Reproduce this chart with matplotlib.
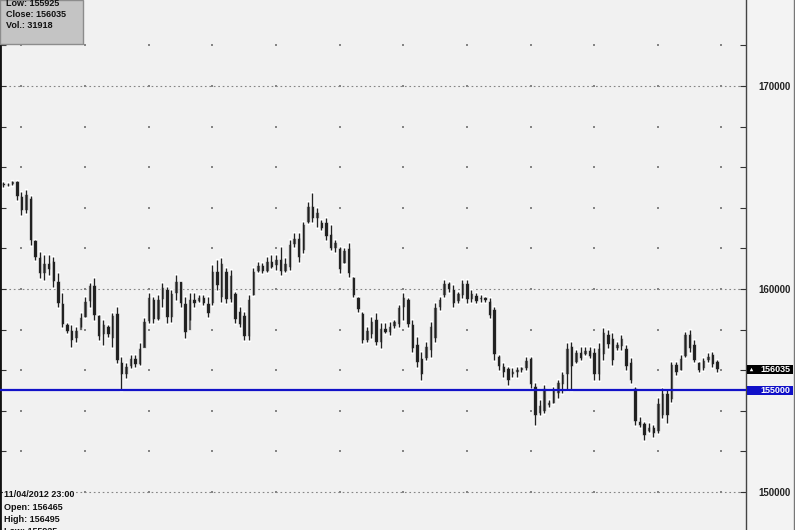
import matplotlib
matplotlib.use("Agg")
import matplotlib.pyplot as plt
from matplotlib.patches import Rectangle
from matplotlib.transforms import blended_transform_factory

# hourly candles (left to right)
opens = [165200, 165100, 165150, 165300, 164600, 163900, 164500, 162400, 161600, 160800,
         161300, 161400, 160400, 159300, 158300, 158000, 157600, 158000, 158600, 159400,
         160200, 158700, 157800, 158200, 157600, 158800, 156400, 155800, 156200, 156600,
         156300, 157100, 158400, 159500, 158500, 159500, 160000, 158600, 159800, 160400,
         159300, 158000, 159500, 159400,
         159600, 159300, 159300, 160900, 159600, 160900, 159500, 159800, 158900, 158700,
         157700, 159700, 160900, 161200, 160900, 161400, 161200, 161500, 160900, 161100,
         162200, 162500, 161900, 163300, 164100, 163500, 163300, 163300, 162700, 162000,
         162000, 161300, 162000, 160600, 159600, 158800, 157500, 157800, 158500, 157400,
         158100, 157900, 158200, 158300,
         159100, 159500, 158300, 157300, 156600, 156600, 157000, 157600, 159100, 159700,
         160300, 160000, 159400, 159700, 160300, 159500, 159700, 159500, 159600, 159400,
         159000, 156700, 156200, 156100, 155800, 155900, 156000, 156100, 156600, 155200,
         153900, 154000, 154300, 154400, 154900,
         155300, 155800, 157200, 156400, 156900, 156800, 157000, 156900, 155800, 156800,
         157800, 157600, 157100, 157200, 157100, 156400, 155100, 153500, 153400, 153000,
         153200, 153000, 153800, 154900, 154600, 156300, 156000, 156700, 157800, 157300,
         156400, 156100, 156500, 156800, 156465]
highs = [165290, 165210, 165340, 165340, 164800, 164900, 164580, 162410, 161840, 161670,
         161670, 161590, 160770, 159790, 158310, 158230, 158140, 158800, 159620, 160280,
         160520, 158720, 158470, 158230, 158800, 159130, 156670, 156340, 156750, 156750,
         157320, 158550, 159790, 159620, 159700, 160280, 160110, 159950, 160690, 160360,
         159620, 159790, 159790, 159700,
         159700, 159620, 161180, 161430, 161510, 161020, 160940, 159870, 159130, 158880,
         159700, 161020, 161350, 161260, 161590, 161670, 161670, 162090, 161510, 162410,
         162740, 162740, 163320, 164300, 164710, 163970, 163400, 163480, 163150, 162410,
         162090, 162000, 162250, 160610, 159620, 158880, 158140, 158640, 158800, 158310,
         158310, 158390, 158470, 159210,
         159790, 159540, 158470, 157650, 156910, 157410, 158390, 159290, 159620, 160440,
         160360, 160200, 159870, 160440, 160440, 159950, 159790, 159700, 159620, 159540,
         159130, 156750, 156340, 156180, 156090, 156180, 156180, 156670, 156670, 155350,
         154530, 155270, 154530, 155190, 155520,
         155930, 157320, 157410, 157000, 157160, 157160, 157160, 157080, 157320, 158060,
         157980, 157820, 157410, 157730, 157240, 156590, 155190, 153710, 153470, 153380,
         153300, 154620, 155110, 155030, 156420, 156420, 156750, 157900, 157980, 157490,
         156420, 156590, 156830, 156910, 156495]
lows = [165040, 165070, 165120, 164380, 163650, 163730, 162170, 161430, 160530, 160440,
        160690, 160110, 159130, 158140, 157820, 157160, 157400, 158140, 158640, 159130,
        158470, 157490, 157240, 157650, 157160, 156340, 155020, 155600, 156090, 156170,
        156260, 157160, 158310, 158310, 158470, 159130, 158310, 158390, 159460, 159130,
        157570, 158470, 159130, 159380,
        159210, 158640, 159210, 159950, 159380, 159290, 159380, 158310, 158140, 157490,
        157490, 159700, 160850, 160770, 160850, 161020, 160940, 160690, 160850, 160940,
        162090, 161350, 161760, 163230, 163320, 163070, 162910, 162410, 161920, 161840,
        160770, 161260, 160610, 159620, 158880, 157320, 157410, 157570, 157240, 157080,
        157820, 157730, 158060, 158140,
        158470, 158150, 156910, 156180, 155520, 156500, 156670, 157410, 158970, 159620,
        159870, 159130, 159290, 159540, 159290, 159380, 159290, 159380, 159380, 158560,
        156500, 156010, 155680, 155270, 155680, 155680, 155930, 156010, 155110, 153300,
        153790, 153880, 154210, 154370, 154620,
        154860, 155030, 155030, 156340, 156500, 156750, 156590, 155520, 155520, 156500,
        157080, 156260, 157000, 157000, 156010, 155350, 153300, 153220, 152560, 152970,
        152730, 152890, 153630, 153380, 154450, 155760, 156010, 156670, 156910, 156420,
        155930, 156010, 156420, 156170, 155925]
closes = [165100, 165150, 165300, 164600, 163900, 164700, 162400, 161600, 160800, 161300,
          161000, 160400, 159300, 158300, 157950, 157500, 158000, 158600, 159400, 160200,
          158700, 157700, 158300, 157800, 158700, 156500, 155800, 156200, 156600, 156300,
          157100, 158400, 159600, 158500, 159500, 160100, 158600, 159800, 160400, 159300,
          157900, 159500, 159300, 159600,
          159300, 158800, 160900, 160200, 161300, 159500, 160700, 158500, 158300, 157700,
          159500, 160900, 161200, 160900, 161400, 161100, 161500, 160900, 161300, 162200,
          162500, 161600, 163200, 164100, 163500, 163800, 163000, 162600, 162000, 162300,
          161000, 161900, 160800, 159700, 159000, 157500, 158000, 158400, 157400, 158100,
          157900, 158200, 158400, 159100,
          159600, 158300, 157100, 156400, 155800, 157200, 158200, 159100, 159500, 160300,
          160000, 159300, 159800, 160300, 159500, 159800, 159400, 159600, 159450, 158700,
          156800, 156200, 155900, 155500, 155950, 156050, 156150, 156500, 155300, 153800,
          154300, 155100, 154450, 155000, 155400,
          155800, 157100, 156200, 156900, 156600, 157000, 156700, 155800, 157100, 157900,
          157300, 156500, 157300, 157600, 156200, 155500, 153500, 153300, 152800, 153200,
          152900, 154400, 154900, 153800, 156300, 155900, 156600, 157800, 157100, 156500,
          156000, 156500, 156700, 156300, 156035]

last_close = 156035
line_level = 155000
tick_levels = [150000, 152000, 154000, 156000, 158000, 160000,
               162000, 164000, 166000, 168000, 170000, 172000]
label_levels = [150000, 160000, 170000]
grid_cols = [4, 18, 32, 46, 60, 74, 88, 102, 116, 130, 144, 158]
info_top = ["Low: 155925", "Close: 156035", "Vol.: 31918"]
info_bottom = ["11/04/2012 23:00", "Open: 156465", "High: 156495", "Low: 155925"]

W, H = 795, 530
BG = "#f1f1f1"
FONT = "Liberation Sans"

fig = plt.figure(figsize=(W / 100, H / 100), dpi=100, facecolor="#f3f3f3")
ax = fig.add_axes([0, 0, 746 / W, 1])
ax.set_facecolor(BG)
ax.set_xlim(-0.73, 163.4)
ax.set_ylim(148128, 174236)

# grid: dotted lines at round levels, dots elsewhere
for lv in label_levels:
    ax.axhline(lv, color="#858585", lw=0.8, ls=(0, (1.5, 2.5)), zorder=1)
gx = [c for c in grid_cols for _ in tick_levels]
gy = [lv for _ in grid_cols for lv in tick_levels]
ax.scatter(gx, gy, s=2.5, marker="s", color="#858585", linewidths=0, zorder=1)

# candles
for i in range(len(opens)):
    o, h, l, c = opens[i], highs[i], lows[i], closes[i]
    col = "#6a6a6a" if c >= o else "#242424"
    ax.plot([i, i], [l, h], color="white", lw=2.4, zorder=2, solid_capstyle="projecting")
    ax.plot([i, i], [l, h], color="#202020", lw=1.0, zorder=4, solid_capstyle="butt")
    ax.add_patch(Rectangle((i - 0.38, min(o, c)), 0.76, max(abs(c - o), 60),
                           facecolor=col, edgecolor="white", lw=0.45, zorder=3))

ax.axhline(line_level, color="#1212c8", lw=1.6, zorder=5)

# price scale on the right
ax.set_xticks([])
ax.set_yticks(tick_levels)
ax.set_yticklabels([str(v) if v in label_levels else "" for v in tick_levels])
ax.tick_params(axis="y", which="both", direction="in", length=4, width=0.8,
               color="#333333", left=True, right=True,
               labelleft=False, labelright=True, pad=9, labelsize=7)
for lab in ax.get_yticklabels():
    lab.set_fontfamily(FONT)
    lab.set_fontweight("bold")
    lab.set_color("#222222")
for s in ["top", "bottom"]:
    ax.spines[s].set_visible(False)
ax.spines["left"].set_color("#111111")
ax.spines["left"].set_linewidth(2)
ax.spines["right"].set_color("#444444")
ax.spines["right"].set_linewidth(1)

# price tags
tr = blended_transform_factory(ax.transAxes, ax.transData)
px = (174236 - 148128) / H
for val, bg in [(last_close, "black"), (line_level, "#1010c8")]:
    ax.add_patch(Rectangle((1.001, val - 4.5 * px), 0.062, 9 * px, transform=tr,
                           facecolor=bg, edgecolor="none", clip_on=False, zorder=6))
    ax.text(1.059, val, str(val), transform=tr, ha="right", va="center",
            color="white", fontsize=6.5, fontweight="bold", family=FONT,
            clip_on=False, zorder=7)
ax.plot([1.007], [last_close], marker="^", ms=2.5, color="white", mec="none",
        transform=tr, clip_on=False, zorder=7)

# right border of the window
fig.add_artist(plt.Line2D([793.5 / W, 793.5 / W], [0, 1], color="#777777", lw=1))

# data window, top left
fig.add_artist(Rectangle((0, 1 - 44 / H), 83 / W, 44 / H, transform=fig.transFigure,
                         facecolor="#c4c4c4", edgecolor="#8c8c8c", lw=1, zorder=10))
for k, txt in enumerate(info_top):
    fig.text(6 / W, 1 - (3 + 11.5 * k) / H, txt, ha="left", va="center",
             fontsize=6.5, fontweight="bold", family=FONT, color="#111111", zorder=11)

# bar info, bottom left (last line is cut by the window edge, as in the source)
for k, txt in enumerate(info_bottom):
    y = 494.5 + (13.5 if k > 0 else 0) + 11.5 * max(k - 1, 0)
    fig.text(4 / W, 1 - y / H, txt, ha="left", va="center", fontsize=6.5,
             fontweight="bold", family=FONT, color="#111111", zorder=11,
             bbox=dict(facecolor=BG, edgecolor="none", pad=0.6))

fig.savefig("out.png", dpi=100, facecolor=fig.get_facecolor())
